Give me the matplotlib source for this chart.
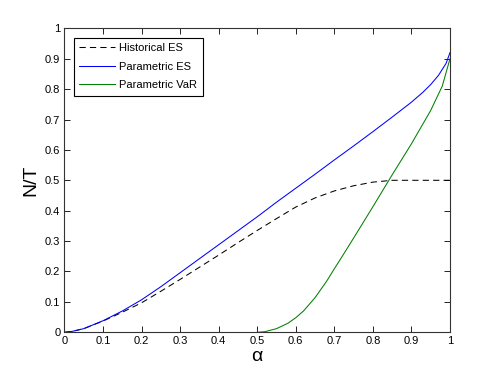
import matplotlib.pyplot as plt

plt.rcParams['font.family'] = ['Liberation Sans', 'DejaVu Sans']

# Historical ES (dashed black)
hist_alpha = [0, 0.02, 0.05, 0.1, 0.15, 0.2, 0.25, 0.3, 0.35, 0.4, 0.45, 0.5, 0.55, 0.6,
              0.65, 0.7, 0.75, 0.8, 0.85, 0.9, 0.95, 1.0]
hist_es = [0, 0.003, 0.012, 0.037, 0.066, 0.097, 0.135, 0.174, 0.214, 0.254, 0.295, 0.335,
           0.374, 0.412, 0.442, 0.465, 0.482, 0.494, 0.5, 0.5, 0.5, 0.5]

# Parametric ES (blue)
par_alpha = [0, 0.02, 0.05, 0.1, 0.15, 0.2, 0.25, 0.3, 0.35, 0.4, 0.45, 0.5, 0.55, 0.6,
             0.65, 0.7, 0.75, 0.8, 0.85, 0.9, 0.93, 0.95, 0.97, 0.99, 1.0]
par_es = [0, 0.003, 0.012, 0.038, 0.07, 0.107, 0.15, 0.196, 0.242, 0.288, 0.334, 0.38,
          0.428, 0.474, 0.52, 0.567, 0.613, 0.66, 0.708, 0.757, 0.79, 0.815, 0.845, 0.885, 0.92]

# Parametric VaR (green)
var_alpha = [0.5, 0.52, 0.55, 0.58, 0.6, 0.62, 0.65, 0.68, 0.7, 0.72, 0.75, 0.8, 0.85,
             0.9, 0.95, 0.98, 1.0]
par_var = [0, 0.002, 0.012, 0.03, 0.048, 0.07, 0.114, 0.168, 0.209, 0.249, 0.31, 0.413,
           0.518, 0.62, 0.73, 0.81, 0.9]

fig = plt.figure(figsize=(4.98, 3.75), dpi=100)
ax = fig.add_axes([0.1295, 0.1139, 0.7741, 0.8106])

ax.plot(hist_alpha, hist_es, 'k--', lw=0.75, dashes=(6, 4), label='Historical ES')
ax.plot(par_alpha, par_es, color='#0000ff', lw=0.75, label='Parametric ES')
ax.plot(var_alpha, par_var, color='#008000', lw=0.75, label='Parametric VaR')

ax.set_xlim(0, 1)
ax.set_ylim(0, 1)
ticks = [0, 0.1, 0.2, 0.3, 0.4, 0.5, 0.6, 0.7, 0.8, 0.9, 1]
tick_labels = ['0', '0.1', '0.2', '0.3', '0.4', '0.5', '0.6', '0.7', '0.8', '0.9', '1']
ax.set_xticks(ticks)
ax.set_xticklabels(tick_labels)
ax.set_yticks(ticks)
ax.set_yticklabels(tick_labels)
ax.tick_params(direction='in', top=True, right=True, length=4, width=0.6, labelsize=8, pad=3)
for s in ax.spines.values():
    s.set_linewidth(0.8)
    s.set_color('#333333')

ax.set_xlabel('α', fontsize=14, labelpad=1)
ax.set_ylabel('N/T', fontsize=14, labelpad=4)

leg = ax.legend(loc='upper left', fontsize=8, fancybox=False, edgecolor='black',
                framealpha=1, handlelength=3.2, borderaxespad=0.85, labelspacing=0.75,
                handletextpad=0.4, borderpad=0.5)
leg.get_frame().set_linewidth(0.8)

fig.savefig('out.png', dpi=100)
